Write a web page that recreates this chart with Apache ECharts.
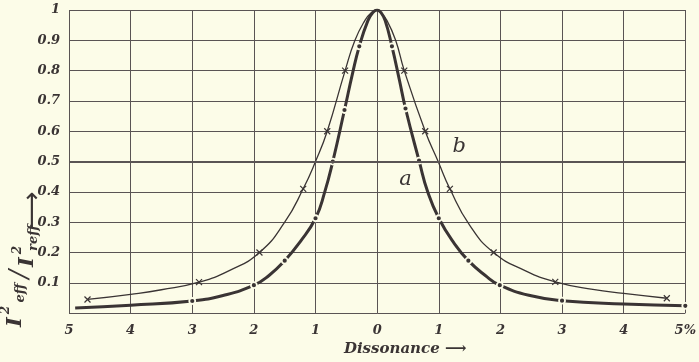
<!DOCTYPE html>
<html>
<head>
<meta charset="utf-8">
<script src="https://cdn.jsdelivr.net/npm/echarts@6/dist/echarts.min.js"></script>
<style>
html,body{margin:0;padding:0;background:#fcfce8;}
#chart{width:699px;height:362px;}
</style>
</head>
<body>
<div id="chart"></div>
<script>
// Curve a (thick, dots)
var curveAX = [-4.9, -4.0, -3.0, -2.5, -2.0, -1.75, -1.5, -1.25, -1.0, -0.85, -0.72, -0.53, -0.40, -0.29, -0.15, -0.07, 0, 0.06, 0.13, 0.24, 0.36, 0.46, 0.68, 0.82, 1.0, 1.25, 1.48, 1.75, 1.99, 2.5, 3.0, 4.0, 5.0];
var curveAY = [0.017, 0.026, 0.040, 0.058, 0.092, 0.125, 0.173, 0.235, 0.313, 0.40, 0.50, 0.67, 0.79, 0.88, 0.965, 0.992, 1.0, 0.992, 0.965, 0.88, 0.77, 0.675, 0.503, 0.40, 0.313, 0.23, 0.173, 0.125, 0.092, 0.057, 0.041, 0.030, 0.024];
var curveAMark = [0, 0, 1, 0, 1, 0, 1, 0, 1, 0, 1, 1, 0, 1, 0, 0, 0, 0, 0, 1, 0, 1, 1, 0, 1, 0, 1, 0, 1, 0, 1, 0, 1];
// Curve b (thin, crosses)
var curveBX = [-4.7, -4.0, -3.5, -2.89, -2.4, -1.91, -1.5, -1.2, -1.0, -0.81, -0.52, -0.36, -0.2, -0.1, 0, 0.06, 0.16, 0.30, 0.44, 0.78, 0.99, 1.18, 1.5, 1.89, 2.4, 2.89, 3.5, 4.0, 4.7];
var curveBY = [0.045, 0.062, 0.077, 0.102, 0.14, 0.20, 0.30, 0.41, 0.50, 0.60, 0.80, 0.90, 0.965, 0.99, 1.0, 0.99, 0.965, 0.90, 0.80, 0.60, 0.50, 0.41, 0.29, 0.20, 0.14, 0.103, 0.078, 0.065, 0.049];
var curveBMark = [1, 0, 0, 1, 0, 1, 0, 1, 0, 1, 1, 0, 0, 0, 0, 0, 0, 0, 1, 1, 0, 1, 0, 1, 0, 1, 0, 0, 1];
// Axis ticks
var xTicks = [-5, -4, -3, -2, -1, 0, 1, 2, 3, 4, 5];
var yTicks = [0.1, 0.2, 0.3, 0.4, 0.5, 0.6, 0.7, 0.8, 0.9, 1];
var curveLabels = [{name: 'a', x: 0.46, y: 0.44}, {name: 'b', x: 1.33, y: 0.55}];

var BG = '#fcfce8';
var INK = '#3a3434';
var GRID = '#5a5454';
var FONT = 'DejaVu Serif';
var CROSS = 'path://M0,0L10,10M10,0L0,10';

function buildData(xs, ys, marks, markSymbol) {
  return xs.map(function (x, i) {
    return {value: [x, ys[i]], symbol: marks[i] ? markSymbol : 'none'};
  });
}

var chart = echarts.init(document.getElementById('chart'), null, {renderer: 'canvas'});
chart.setOption({
  backgroundColor: BG,
  animation: false,
  grid: {left: 69, right: 12, top: 10, bottom: 43},
  xAxis: {
    type: 'value', min: -5, max: 5, interval: 1,
    axisLine: {show: false}, axisTick: {show: false},
    splitLine: {show: true, lineStyle: {color: GRID, width: 1}},
    axisLabel: {
      margin: 11, color: INK, fontFamily: FONT, fontStyle: 'italic', fontWeight: 'bold', fontSize: 13,
      formatter: function (v) { return v === xTicks[xTicks.length - 1] ? v + '%' : String(Math.abs(v)); }
    },
    name: 'Dissonance \u27F6', nameLocation: 'middle', nameGap: 24,
    nameTextStyle: {color: INK, fontFamily: FONT, fontStyle: 'italic', fontWeight: 'bold', fontSize: 15, padding: [0, 0, 0, 56], verticalAlign: 'top'}
  },
  yAxis: {
    type: 'value', min: 0, max: 1, interval: 0.1,
    axisLine: {show: false}, axisTick: {show: false},
    splitLine: {show: true, lineStyle: {color: GRID, width: 1}},
    axisLabel: {
      margin: 9, color: INK, fontFamily: FONT, fontStyle: 'italic', fontWeight: 'bold', fontSize: 13,
      formatter: function (v) {
        for (var i = 0; i < yTicks.length; i++) { if (Math.abs(yTicks[i] - v) < 1e-9) return String(yTicks[i]); }
        return '';
      }
    }
  },
  series: [
    {
      type: 'line', name: 'b', smooth: 0.5,
      data: buildData(curveBX, curveBY, curveBMark, CROSS),
      symbolSize: 6,
      lineStyle: {color: INK, width: 1.3},
      itemStyle: {color: INK, borderColor: INK, borderWidth: 1.2},
      z: 3
    },
    {
      type: 'line', name: 'a', smooth: 0.5,
      data: buildData(curveAX, curveAY, curveAMark, 'circle'),
      symbolSize: 6,
      lineStyle: {color: INK, width: 3},
      itemStyle: {color: INK, borderColor: BG, borderWidth: 1.8},
      markLine: {
        silent: true, symbol: 'none', label: {show: false},
        lineStyle: {color: GRID, width: 2, type: 'solid'},
        data: [{yAxis: yTicks[4]}]
      },
      markPoint: {
        symbol: 'circle', symbolSize: 0,
        label: {show: true, color: INK, fontFamily: FONT, fontStyle: 'italic', fontSize: 21, formatter: '{b}'},
        data: curveLabels.map(function (c) { return {name: c.name, coord: [c.x, c.y]}; })
      },
      z: 4
    }
  ],
  graphic: [{
    type: 'group', x: 0, y: 362, rotation: Math.PI / 2,
    children: [
      {type: 'text', x: 40, y: 16, style: {text: 'I', font: 'italic bold 21px "DejaVu Serif"', fill: INK, align: 'center', verticalAlign: 'middle'}},
      {type: 'text', x: 52, y: 6, style: {text: '2', font: 'italic bold 12px "DejaVu Serif"', fill: INK, align: 'center', verticalAlign: 'middle'}},
      {type: 'text', x: 69, y: 21, style: {text: 'eff', font: 'italic bold 13px "DejaVu Serif"', fill: INK, align: 'center', verticalAlign: 'middle'}},
      {type: 'text', x: 88, y: 20, style: {text: '/', font: 'italic 26px "DejaVu Serif"', fill: INK, align: 'center', verticalAlign: 'middle'}},
      {type: 'text', x: 100, y: 28, style: {text: 'I', font: 'italic bold 21px "DejaVu Serif"', fill: INK, align: 'center', verticalAlign: 'middle'}},
      {type: 'text', x: 112, y: 18, style: {text: '2', font: 'italic bold 12px "DejaVu Serif"', fill: INK, align: 'center', verticalAlign: 'middle'}},
      {type: 'text', x: 124, y: 34, style: {text: 'reff', font: 'italic bold 13px "DejaVu Serif"', fill: INK, align: 'center', verticalAlign: 'middle'}},
      {type: 'text', x: 152, y: 33, style: {text: '\u27F6', font: '26px "DejaVu Sans"', fill: INK, align: 'center', verticalAlign: 'middle'}}
    ]
  }]
});
</script>
</body>
</html>
